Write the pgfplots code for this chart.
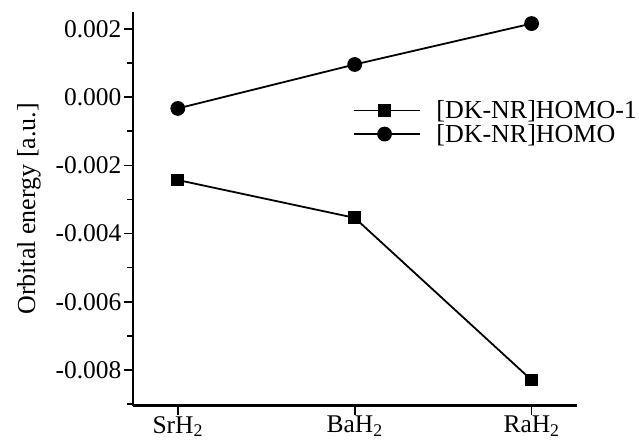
\documentclass[border=0pt]{standalone}
\usepackage{fontspec}
\setmainfont{Liberation Serif}
\usepackage{pgfplots}
\pgfplotsset{compat=1.18}
\begin{document}
\begin{tikzpicture}
\path (-133pt,-39pt) rectangle (506pt,406pt);
\begin{axis}[
  at={(0pt,0pt)}, anchor=south west,
  scale only axis,
  width=444pt, height=394pt,
  axis lines*=left,
  axis line style={line width=2.4pt, -},
  xmin=-0.254, xmax=2.254,
  ymin=-0.00905, ymax=0.0025,
  xtick={0,1,2},
  xticklabels={SrH\textsubscript{2},BaH\textsubscript{2},RaH\textsubscript{2}},
  ytick={-0.008,-0.006,-0.004,-0.002,0,0.002},
  yticklabels={-0.008,-0.006,-0.004,-0.002,0.000,0.002},
  minor ytick={-0.009,-0.007,-0.005,-0.003,-0.001,0.001},
  scaled y ticks=false,
  tick align=outside,
  tick pos=left,
  major tick length=9pt,
  minor tick length=6pt,
  every tick/.style={line width=1.6pt, black},
  tick label style={font=\fontsize{25.5}{28}\selectfont},
  yticklabel style={xshift=1pt},
  ylabel={Orbital energy [a.u.]},
  ylabel style={font=\fontsize{26}{28}\selectfont, yshift=8pt},
  xticklabel style={yshift=2pt},
  legend style={draw=none, fill=none, at={(axis description cs:0.495,0.78)}, anchor=north west,
    font=\fontsize{26}{27}\selectfont, inner sep=0pt, row sep=0pt, column sep=2pt},
  legend image code/.code={%
    \draw[#1, mark=none] (0pt,0pt) -- (62pt,0pt);
    \draw[#1, only marks] plot coordinates {(31pt,0pt)};
    \path (0pt,0pt) -- (66pt,0pt);},
  legend cell align=left,
]
\addplot[black, line width=1.8pt, mark=square*, mark size=5.5pt, mark options={solid}]
  coordinates {(0,-0.00243) (1,-0.00354) (2,-0.0083)};
\addlegendentry{\hspace{12pt}[DK-NR]HOMO-1}
\addplot[black, line width=1.8pt, mark=*, mark size=6.5pt, mark options={solid}]
  coordinates {(0,-0.00033) (1,0.00096) (2,0.00216)};
\addlegendentry{\hspace{12pt}[DK-NR]HOMO}
\end{axis}
\end{tikzpicture}
\end{document}
